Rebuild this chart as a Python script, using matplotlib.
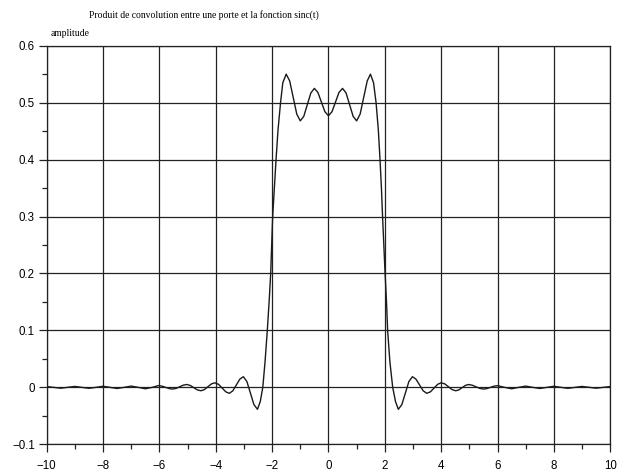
import matplotlib
matplotlib.use("Agg")
import matplotlib.pyplot as plt
from matplotlib.ticker import MultipleLocator

# Convolution of a gate (rect on [-2, 2]) with sinc(t), sampled points
t_vals = [
    -10.0, -9.75, -9.5, -9.25, -9.0, -8.75, -8.5, -8.25, -8.0, -7.75,
    -7.5, -7.25, -7.0, -6.75, -6.5, -6.25, -6.04, -5.905, -5.78, -5.655,
    -5.53, -5.405, -5.28, -5.155, -5.03, -4.905, -4.78, -4.655, -4.53, -4.405,
    -4.28, -4.155, -4.03, -3.9, -3.77, -3.645, -3.52, -3.395, -3.27, -3.145,
    -3.02, -2.895, -2.77, -2.645, -2.52, -2.42, -2.33, -2.25, -2.17, -2.10,
    -2.05, -1.98, -1.92, -1.86, -1.79, -1.70, -1.62, -1.5, -1.375, -1.25,
    -1.125, -1.0, -0.875, -0.75, -0.625, -0.5, -0.375, -0.25, -0.125, 0.0,
    0.125, 0.25, 0.375, 0.5, 0.625, 0.75, 0.875, 1.0, 1.125, 1.25,
    1.375, 1.49, 1.60, 1.69, 1.77, 1.83, 1.88, 1.92, 2.01, 2.06,
    2.10, 2.18, 2.28, 2.38, 2.48, 2.605, 2.73, 2.855, 2.98, 3.105,
    3.235, 3.365, 3.49, 3.62, 3.745, 3.875, 4.0, 4.13, 4.26, 4.39,
    4.52, 4.63, 4.745, 4.86, 4.97, 5.1, 5.235, 5.37, 5.5, 5.625,
    5.75, 5.875, 6.0, 6.25, 6.5, 6.75, 7.0, 7.25, 7.5, 7.75,
    8.0, 8.25, 8.5, 8.75, 9.0, 9.25, 9.5, 9.75, 10.0,
]
amp_vals = [
    0.0014, 0.0, -0.0015, 0.0, 0.0016, 0.0, -0.0017, 0.0, 0.0019, 0.0,
    -0.002, 0.0, 0.0022, 0.0, -0.0025, 0.0, 0.003, 0.0021, 0.0, -0.0021,
    -0.003, -0.0018, 0.001, 0.0038, 0.005, 0.0034, -0.0005, -0.0044, -0.006, -0.004,
    0.001, 0.006, 0.008, 0.0053, -0.0013, -0.0078, -0.0105, -0.0062, 0.0041, 0.0144,
    0.0187, 0.0103, -0.0099, -0.0302, -0.0386, -0.025, 0.0, 0.045, 0.10, 0.155,
    0.20, 0.30, 0.35, 0.40, 0.452, 0.50, 0.535, 0.55, 0.538, 0.509,
    0.480, 0.468, 0.476, 0.4965, 0.517, 0.525, 0.518, 0.501, 0.484, 0.477,
    0.484, 0.501, 0.518, 0.525, 0.517, 0.4965, 0.476, 0.468, 0.480, 0.509,
    0.538, 0.55, 0.535, 0.50, 0.452, 0.40, 0.35, 0.30, 0.20, 0.15,
    0.10, 0.045, 0.0, -0.025, -0.0386, -0.0302, -0.0099, 0.0103, 0.0187, 0.0144,
    0.0041, -0.0062, -0.0105, -0.0078, -0.0013, 0.0053, 0.008, 0.006, 0.001, -0.004,
    -0.006, -0.0044, -0.0005, 0.0034, 0.005, 0.0038, 0.001, -0.0018, -0.003, -0.0021,
    0.0, 0.0021, 0.003, 0.0, -0.0025, 0.0, 0.0022, 0.0, -0.002, 0.0,
    0.0019, 0.0, -0.0017, 0.0, 0.0016, 0.0, -0.0015, 0.0, 0.0014,
]

x_ticks = [-10, -8, -6, -4, -2, 0, 2, 4, 6, 8, 10]
y_ticks = [-0.1, 0, 0.1, 0.2, 0.3, 0.4, 0.5, 0.6]
y_labels = ["\u22120.1", "0", "0.1", "0.2", "0.3", "0.4", "0.5", "0.6"]

title = "Produit de convolution entre une porte et la fonction sinc(t)"
ylabel = "amplitude"

fig = plt.figure(figsize=(6.35, 4.72), dpi=100)
ax = fig.add_axes([0.0735, 0.0587, 0.8875, 0.8445])

ax.plot(t_vals, amp_vals, color="#1a1a1a", lw=1.0, zorder=3)

ax.set_xlim(-10, 10)
ax.set_ylim(-0.1, 0.6)
ax.set_xticks(x_ticks)
ax.set_yticks(y_ticks)
ax.set_yticklabels(y_labels)
ax.xaxis.set_minor_locator(MultipleLocator(1))
ax.yaxis.set_minor_locator(MultipleLocator(0.05))

ax.grid(True, which="major", color="#222222", lw=0.9)
ax.tick_params(which="major", direction="out", length=5.5, width=0.9,
               color="#222222", labelsize=8.3, pad=3)
ax.tick_params(axis="x", which="major", pad=6)
ax.tick_params(which="minor", direction="out", length=3.5, width=0.9,
               color="#222222")
for lab in ax.get_xticklabels() + ax.get_yticklabels():
    lab.set_fontfamily("Liberation Sans")

for sp in ax.spines.values():
    sp.set_color("#222222")
    sp.set_linewidth(0.9)

fig.text(0.140, 0.968, title, fontsize=6.9, family="Liberation Serif",
         ha="left", va="center")
fig.text(0.079, 0.930, ylabel, fontsize=6.9, family="Liberation Serif",
         ha="left", va="center")

fig.savefig("out.png", dpi=100)
